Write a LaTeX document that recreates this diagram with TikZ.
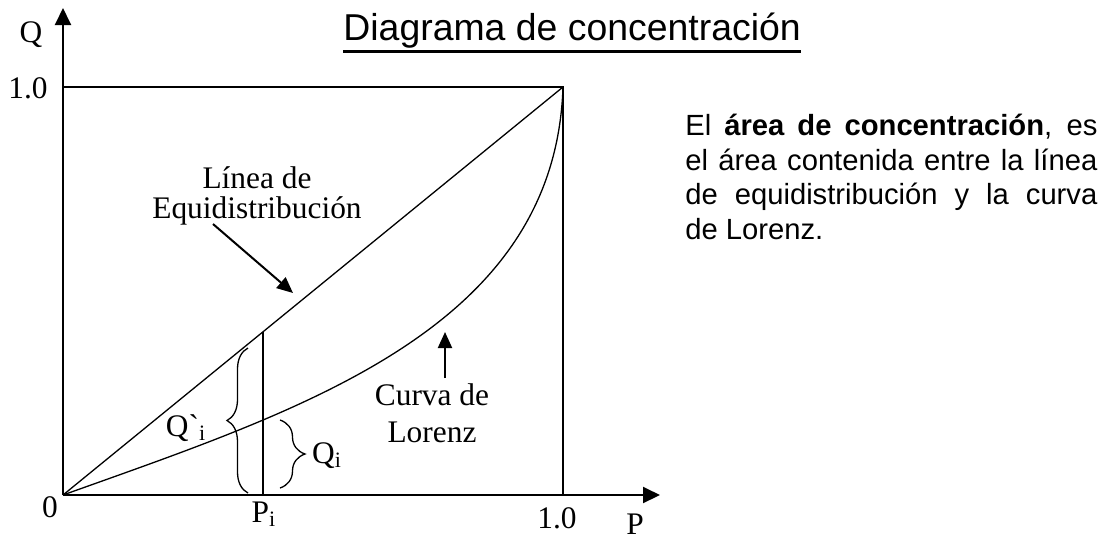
\documentclass[tikz,border=0pt]{standalone}
\usepackage{fontspec}
\setmainfont{Liberation Serif}
\newfontfamily\arialfont{Liberation Sans}
\usetikzlibrary{arrows.meta,decorations.pathreplacing}

\begin{document}
\begin{tikzpicture}[x=0.5pt, y=-0.5pt]

\tikzstyle{every node} = [inner sep=0pt, font=\fontsize{15.7}{18}\selectfont]
\tikzstyle{axis} = [line width=1pt, -{Triangle[length=8.5pt, width=8pt]}]
\tikzstyle{curve} = [line width=0.65pt]
\tikzstyle{pointer} = [line width=1pt, -{Triangle[length=8pt, width=7pt]}]
\tikzstyle{bracket} = [line width=0.65pt, decorate]

\useasboundingbox (0,0) rectangle (1104,538);

\coordinate (o) at (63,495);
\coordinate (qend) at (63,8);
\coordinate (pend) at (660,495);
\coordinate (q1) at (63,87);
\coordinate (p1) at (563,495);
\coordinate (c) at (563,87);
\coordinate (pi) at (263,495);
\coordinate (pq) at (263,332);

\coordinate (eqfrom) at (213,224);
\coordinate (eqto) at (293,293);
\coordinate (lzfrom) at (445,378);
\coordinate (lzto) at (445,332);

\coordinate (b1a) at (248,493);
\coordinate (b1b) at (248,348);
\coordinate (b2a) at (280,420);
\coordinate (b2b) at (280,488);

\node[anchor=base] (q) at (31,42) {Q};
\node[anchor=base] (uno) at (28,98) {1.0};
\node[anchor=base] (cero) at (50,517) {0};
\node[anchor=base] (p) at (635,534) {P};
\node[anchor=base] (unop) at (557,528) {1.0};
\node[anchor=base] (pisub) at (264,522) {P\textsubscript{i}};
\node[anchor=base] (qi) at (327,463) {Q\textsubscript{i}};
\node[anchor=base] (qprima) at (186,436) {Q\textasciigrave\textsubscript{i}};

\node[anchor=base, align=center, font=\fontsize{15.7}{15}\selectfont] (equi) at (257,218) {L\'inea de\\Equidistribuci\'on};
\node[anchor=base, align=center, font=\fontsize{15.7}{18.5}\selectfont] (lorenz) at (432,442) {Curva de\\Lorenz};

\node[anchor=base west, font=\arialfont\fontsize{18.7}{22}\selectfont] (titulo) at (343,40) {Diagrama de concentraci\'on};
\node[anchor=north west, text width=206pt, align=justify, font=\arialfont\fontsize{14.6}{17.25}\selectfont] (texto) at (685,114)
  {El \textbf{\'area de concentraci\'on}, es\linebreak el \'area contenida entre la l\'inea\linebreak de equidistribuci\'on y la curva\linebreak de Lorenz.};

\draw[line width=1.5pt] ([yshift=-1.6pt]titulo.south west) -- ([yshift=-1.6pt]titulo.south east);

\draw[curve] (q1) -- (c) -- (p1);
\draw[curve] (o) -- (c);
\draw[curve] (o) .. controls (300,410) and (555,330) .. (c);
\draw[curve] (pi) -- (pq);

\draw[axis] (o) -- (qend);
\draw[axis] (o) -- (pend);

\draw[pointer] (eqfrom) -- (eqto);
\draw[pointer] (lzfrom) -- (lzto);

\draw[bracket, decoration={brace, amplitude=10.5pt}] (b1a) -- (b1b);
\draw[bracket, decoration={brace, amplitude=12.5pt}] (b2a) -- (b2b);
\end{tikzpicture}
\end{document}
